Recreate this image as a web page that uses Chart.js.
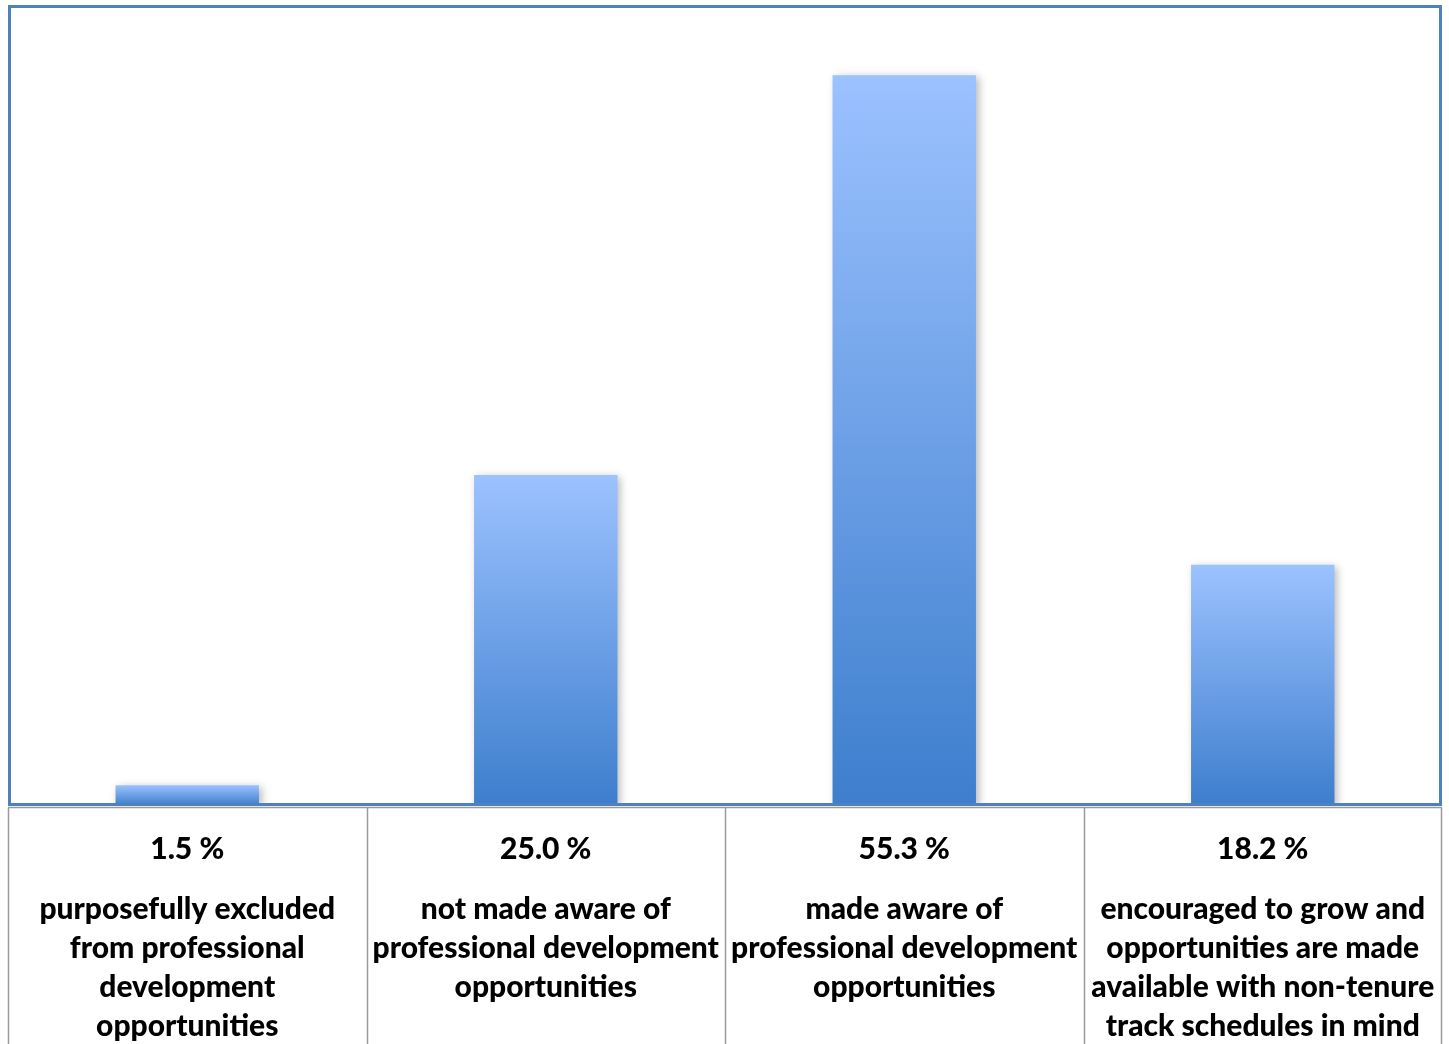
<!DOCTYPE html>
<html>
<head>
<meta charset="utf-8">
<script src="https://cdn.jsdelivr.net/npm/chart.js@4"></script>
<style>
  body { margin: 0; background: #fff; }
  #wrap { width: 1449px; height: 1044px; }
</style>
</head>
<body>
<div id="wrap"><canvas id="myChart" width="1449" height="1044"></canvas></div>
<script>
// chart data
var categories = [
  ['purposefully excluded', 'from professional', 'development', 'opportunities'],
  ['not made aware of', 'professional development', 'opportunities'],
  ['made aware of', 'professional development', 'opportunities'],
  ['encouraged to grow and', 'opportunities are made', 'available with non-tenure', 'track schedules in mind']
];
var percents = [1.5, 25.0, 55.3, 18.2];

var fontFam = 'Lato, "Open Sans", sans-serif';
var fontWeight = '900';
var fontSize = 30;

// gradient per bar, light at top, dark at base
function barFill(ctx) {
  var chart = ctx.chart;
  var area = chart.chartArea;
  if (!area || ctx.raw == null) return '#6a9be8';
  var yTop = chart.scales.y.getPixelForValue(ctx.raw);
  var g = chart.ctx.createLinearGradient(0, yTop, 0, area.bottom);
  g.addColorStop(0, '#9cc2ff');
  g.addColorStop(1, '#3d7ecd');
  return g;
}

var frame = {
  id: 'frame',
  beforeDatasetsDraw: function (chart) {
    var c = chart.ctx;
    c.save();
    c.shadowColor = 'rgba(0,0,0,0.28)';
    c.shadowBlur = 8;
    c.shadowOffsetX = 3;
    c.shadowOffsetY = 2;
  },
  afterDatasetsDraw: function (chart) {
    chart.ctx.restore();
  },
  afterDraw: function (chart) {
    var c = chart.ctx;
    var a = chart.chartArea;
    var xs = chart.scales.x;
    var n = categories.length;
    var w = (a.right - a.left) / n;
    c.save();
    // table cell dividers
    c.strokeStyle = '#9a9a9a';
    c.lineWidth = 1.5;
    for (var i = 0; i <= n; i++) {
      var x = Math.round(a.left + w * i) + 0.5;
      if (i == n) x = a.right - 0.5;
      c.beginPath();
      c.moveTo(x, a.bottom + 3);
      c.lineTo(x, 1044);
      c.stroke();
    }
    c.beginPath();
    c.moveTo(a.left, a.bottom + 2.5);
    c.lineTo(a.right, a.bottom + 2.5);
    c.stroke();
    // plot frame
    c.strokeStyle = '#4f81bd';
    c.lineWidth = 3;
    c.strokeRect(a.left + 1.5, a.top - 1.5, a.right - a.left - 3, a.bottom - a.top + 1);
    // percent row
    c.fillStyle = '#000';
    c.font = fontWeight + ' ' + fontSize + 'px ' + fontFam;
    c.textAlign = 'center';
    c.textBaseline = 'middle';
    for (var j = 0; j < n; j++) {
      c.fillText(percents[j].toFixed(1) + ' %', xs.getPixelForValue(j), 849);
    }
    c.restore();
  }
};

new Chart('myChart', {
  type: 'bar',
  data: {
    labels: categories,
    datasets: [{
      data: percents,
      backgroundColor: barFill,
      borderWidth: 0,
      categoryPercentage: 0.4,
      barPercentage: 1
    }]
  },
  options: {
    responsive: false,
    animation: false,
    layout: { padding: { left: 8, right: 7, top: 8, bottom: 0 } },
    plugins: { legend: { display: false }, tooltip: { enabled: false } },
    scales: {
      y: {
        display: false,
        min: 0,
        max: 60.4
      },
      x: {
        grid: { display: false, drawTicks: false },
        border: { display: false },
        afterFit: function (s) {
          s.height = 239;
          s.paddingLeft = 0;
          s.paddingRight = 0;
        },
        ticks: {
          autoSkip: false,
          maxRotation: 0,
          minRotation: 0,
          padding: 85,
          color: '#000',
          font: { family: fontFam, size: fontSize, weight: fontWeight, lineHeight: '39px' }
        }
      }
    }
  },
  plugins: [frame]
});
</script>
</body>
</html>
